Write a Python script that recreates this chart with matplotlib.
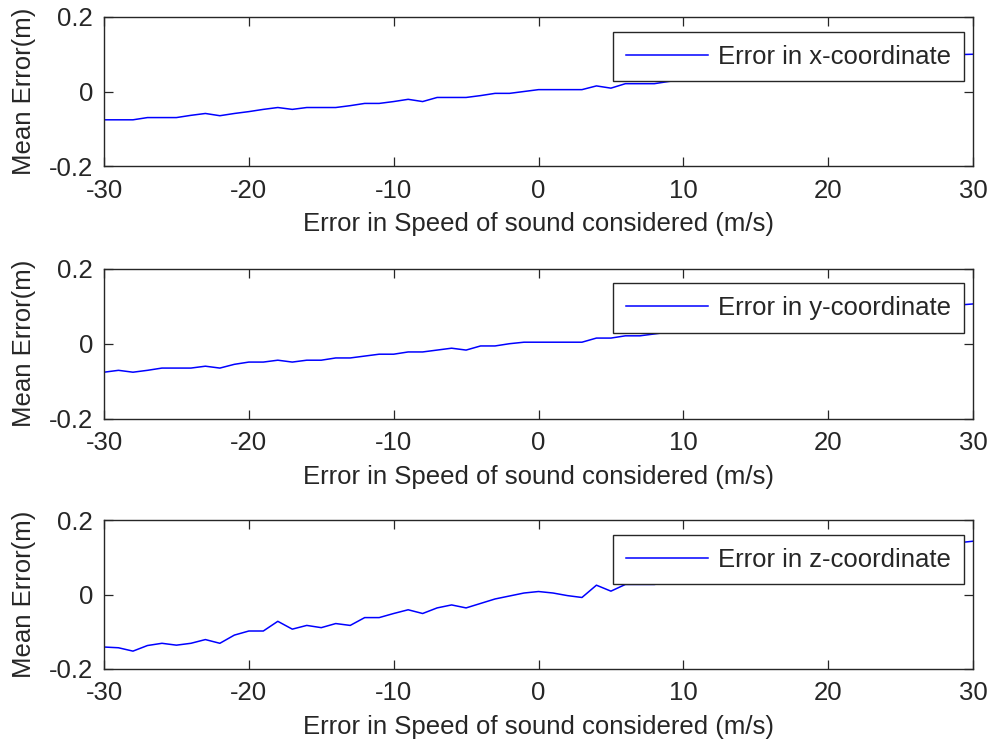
import numpy as np
import matplotlib
matplotlib.use("Agg")
import matplotlib.pyplot as plt

plt.rcParams['font.family'] = ['Liberation Sans', 'DejaVu Sans']
plt.rcParams['axes.unicode_minus'] = False

speed_error = list(range(-30, 31))

err_x = [-0.076, -0.076, -0.076, -0.070, -0.070, -0.070, -0.064, -0.059, -0.065, -0.059,
         -0.054, -0.048, -0.043, -0.048, -0.043, -0.043, -0.043, -0.038, -0.032, -0.032,
         -0.027, -0.021, -0.027, -0.016, -0.016, -0.016, -0.011, -0.005, -0.005, 0.000,
         0.005, 0.005, 0.005, 0.005, 0.015, 0.009, 0.021, 0.021, 0.021, 0.027,
         0.032, 0.035, 0.041, 0.044, 0.047, 0.052, 0.055, 0.058, 0.061, 0.066,
         0.069, 0.071, 0.076, 0.079, 0.081, 0.086, 0.088, 0.091, 0.095, 0.099, 0.100]

err_y = [-0.076, -0.071, -0.076, -0.071, -0.065, -0.065, -0.065, -0.060, -0.065, -0.055,
         -0.049, -0.049, -0.044, -0.049, -0.044, -0.044, -0.038, -0.038, -0.033, -0.028,
         -0.028, -0.022, -0.022, -0.017, -0.012, -0.017, -0.006, -0.006, 0.000, 0.004,
         0.004, 0.004, 0.004, 0.004, 0.015, 0.015, 0.021, 0.021, 0.026, 0.031,
         0.031, 0.035, 0.039, 0.043, 0.046, 0.050, 0.054, 0.058, 0.061, 0.065,
         0.069, 0.072, 0.076, 0.080, 0.084, 0.087, 0.091, 0.095, 0.098, 0.103, 0.106]

err_z = [-0.141, -0.143, -0.152, -0.137, -0.131, -0.136, -0.131, -0.121, -0.131, -0.109,
         -0.098, -0.098, -0.072, -0.093, -0.083, -0.089, -0.078, -0.083, -0.062, -0.062,
         -0.051, -0.041, -0.051, -0.036, -0.028, -0.036, -0.024, -0.012, -0.004, 0.004,
         0.008, 0.004, -0.003, -0.008, 0.025, 0.009, 0.027, 0.027, 0.027, 0.033,
         0.038, 0.043, 0.049, 0.054, 0.060, 0.064, 0.070, 0.075, 0.081, 0.086,
         0.091, 0.097, 0.102, 0.107, 0.113, 0.118, 0.123, 0.128, 0.133, 0.139, 0.143]

series = [err_x, err_y, err_z]
labels = ["Error in x-coordinate", "Error in y-coordinate", "Error in z-coordinate"]

xticks = [-30, -20, -10, 0, 10, 20, 30]
yticks = [-0.2, 0, 0.2]
yticklabels = ["-0.2", "0", "0.2"]
xlabel = "Error in Speed of sound considered (m/s)"
ylabel = "Mean Error(m)"

fig = plt.figure(figsize=(9.89, 7.46), dpi=100)
W, H = 989, 746
left, right = 104, 973
tops = [17, 268.7, 520]
bottoms = [166, 418.7, 669]

fs = 18.5
for i in range(3):
    ax = fig.add_axes([left / W, 1 - bottoms[i] / H, (right - left) / W, (bottoms[i] - tops[i]) / H])
    ax.plot(speed_error, series[i], color=(0, 0, 1), lw=1.1, label=labels[i])
    ax.set_xlim(-30, 30)
    ax.set_ylim(-0.2, 0.2)
    ax.set_xticks(xticks)
    ax.set_xticklabels([str(t) for t in xticks])
    ax.set_yticks(yticks)
    ax.set_yticklabels(yticklabels)
    ax.tick_params(direction='in', length=6.5, width=0.9, color='#262626',
                   top=True, right=True, labelsize=fs, labelcolor='#262626')
    ax.tick_params(axis='x', pad=9)
    ax.tick_params(axis='y', pad=8)
    for s in ax.spines.values():
        s.set_color('#262626')
        s.set_linewidth(1.0)
    ax.set_xlabel(xlabel, fontsize=fs, color='#262626', labelpad=7)
    ax.set_ylabel(ylabel, fontsize=fs, color='#262626', labelpad=9)
    leg = ax.legend(loc='upper right', bbox_to_anchor=((964 - left) / (right - left), (bottoms[i] - (tops[i] + 14.7)) / (bottoms[i] - tops[i])),
                    fontsize=fs, frameon=True, fancybox=False, shadow=False,
                    handlelength=3.2, handletextpad=0.4, borderpad=0.5, borderaxespad=0)
    fr = leg.get_frame()
    fr.set_edgecolor('#262626')
    fr.set_linewidth(1.0)
    fr.set_facecolor('white')
    fr.set_alpha(1)
    for t in leg.get_texts():
        t.set_color('#262626')

fig.savefig("out.png", dpi=100, facecolor='white')
